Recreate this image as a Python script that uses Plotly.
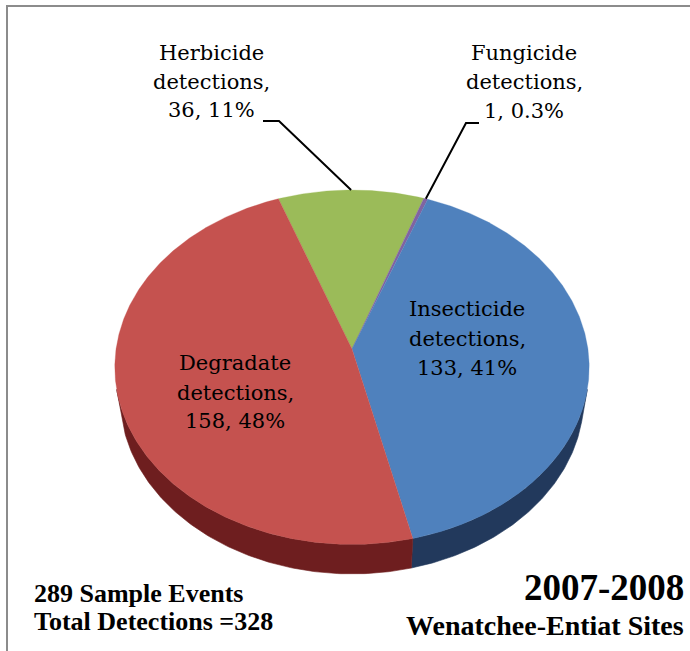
import numpy as np
import plotly.graph_objects as go

# Detection counts by pesticide class (clockwise order around the pie)
categories = ["Herbicide", "Fungicide", "Insecticide", "Degradate"]
counts = [36, 1, 133, 158]
top_colors = ["#9BBB59", "#8064A2", "#4F81BD", "#C5524F"]
side_colors = ["#5E7430", "#4A3A60", "#22395C", "#6E1E1F"]

sample_events = 289
period = "2007-2008"
region = "Wenatchee-Entiat Sites"

W, H = 690, 651
total = sum(counts)

# Perspective camera for the tilted 3-D pie
TILT = np.radians(48.0)
DIST = 6.51
FOCAL = 1536.0
THICK = 0.20
CX, CY = 352.0, 349.0          # screen position of the pie centre
START = -20.0                  # angle (deg, clockwise from the back) of the first slice


def project(phi_deg, height=0.0):
    phi = np.radians(np.asarray(phi_deg, dtype=float))
    X = np.sin(phi)
    Z = -np.cos(phi)
    s, c = np.sin(TILT), np.cos(TILT)
    yc = height * c - Z * s
    zc = DIST - height * s - Z * c
    return CX + FOCAL * X / zc, CY - FOCAL * yc / zc


fig = go.Figure()

# slice angular extents
bounds = []
a = START
for v in counts:
    span = 360.0 * v / total
    bounds.append((a, a + span))
    a += span

# visible side wall (front part of the cylinder)
vis_lo, vis_hi = 103.0, 257.0
for (a0, a1), col in zip(bounds, side_colors):
    lo, hi = max(a0, vis_lo), min(a1, vis_hi)
    if hi <= lo:
        continue
    ang = np.linspace(lo, hi, 120)
    xt, yt = project(ang, 0.0)
    xb, yb = project(ang[::-1], -THICK)
    fig.add_trace(go.Scatter(
        x=np.concatenate([xt, xb, xt[:1]]), y=np.concatenate([yt, yb, yt[:1]]),
        mode="lines", fill="toself", fillcolor=col,
        line=dict(color=col, width=0.6), hoverinfo="skip", showlegend=False))

# top faces
for (a0, a1), col, name, v in zip(bounds, top_colors, categories, counts):
    ang = np.linspace(a0, a1, max(4, int((a1 - a0) * 2)))
    xr, yr = project(ang, 0.0)
    fig.add_trace(go.Scatter(
        x=np.concatenate([[CX], xr, [CX]]), y=np.concatenate([[CY], yr, [CY]]),
        mode="lines", fill="toself", fillcolor=col,
        line=dict(color=col, width=0.3), name=name,
        hovertext=f"{name}: {v}", hoverinfo="text", showlegend=False))


def pct_text(v):
    p = 100.0 * v / total
    return f"{p:.1f}%" if p < 1 else f"{p:.0f}%"


LABEL_FONT = dict(family="DejaVu Serif", size=21, color="black")
label_pos = {
    "Herbicide": (211, [53, 82, 110]),
    "Fungicide": (524, [53, 82, 111]),
    "Insecticide": (467, [309, 339, 368]),
    "Degradate": (235, [363, 393, 421]),
}
for name, v in zip(categories, counts):
    lx, ys = label_pos[name]
    lines = [name, "detections,", f"{v}, {pct_text(v)}"]
    for txt, ly in zip(lines, ys):
        fig.add_annotation(x=lx, y=ly, text=txt, showarrow=False,
                           xanchor="center", yanchor="middle", font=LABEL_FONT)

# leader lines for the two slices labelled outside the pie
leaders = {"Herbicide": [(263, 121), (279, 121)], "Fungicide": [(479, 123), (466, 123)]}
for (a0, a1), name in zip(bounds, categories):
    if name not in leaders:
        continue
    ex, ey = project((a0 + a1) / 2.0, 0.0)
    pts = leaders[name] + [(float(ex), float(ey))]
    fig.add_trace(go.Scatter(x=[p[0] for p in pts], y=[p[1] for p in pts],
                             mode="lines", line=dict(color="black", width=2),
                             hoverinfo="skip", showlegend=False))

SERIF = "Liberation Serif"
fig.add_annotation(x=32, y=593, text=f"<b>{sample_events} Sample Events</b>", showarrow=False,
                   xanchor="left", yanchor="middle", font=dict(family=SERIF, size=26, color="black"))
fig.add_annotation(x=32, y=621, text=f"<b>Total Detections ={total}</b>", showarrow=False,
                   xanchor="left", yanchor="middle", font=dict(family=SERIF, size=26, color="black"))
fig.add_annotation(x=686, y=587, text=f"<b>{period}</b>", showarrow=False,
                   xanchor="right", yanchor="middle", font=dict(family=SERIF, size=37, color="black"))
fig.add_annotation(x=686, y=625, text=f"<b>{region}</b>", showarrow=False,
                   xanchor="right", yanchor="middle", font=dict(family=SERIF, size=28, color="black"))

# chart frame
fig.add_shape(type="rect", x0=7, y0=6, x1=720, y1=700, xref="x", yref="y",
              line=dict(color="#8C8C8C", width=2), layer="below")

fig.update_layout(
    width=W, height=H, autosize=False,
    margin=dict(l=0, r=0, t=0, b=0),
    paper_bgcolor="white", plot_bgcolor="white",
    xaxis=dict(range=[0, W], visible=False, fixedrange=True),
    yaxis=dict(range=[H, 0], visible=False, fixedrange=True),
)

fig.write_html("out.html")
